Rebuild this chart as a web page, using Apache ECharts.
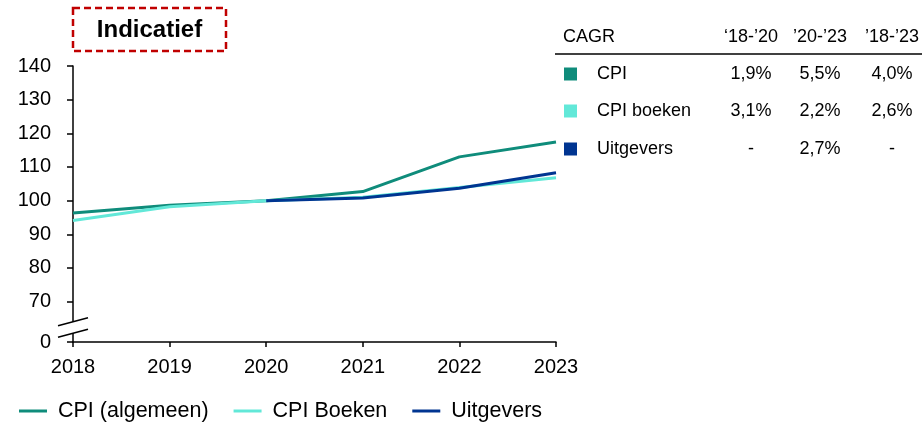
<!DOCTYPE html>
<html>
<head>
<meta charset="utf-8">
<script src="https://cdn.jsdelivr.net/npm/echarts@6/dist/echarts.min.js"></script>
<style>
  html, body { margin: 0; padding: 0; background: #fff; }
  #chart { width: 922px; height: 422px; }
</style>
</head>
<body>
<div id="chart"></div>
<script>
// data
const years = ['2018', '2019', '2020', '2021', '2022', '2023'];
const cpi = [96.3, 98.6, 100, 102.7, 113.0, 117.4];
const cpiBoeken = [94.1, 98.2, 100, 101.0, 103.9, 106.8];
const uitgevers = [null, null, 100, 100.8, 103.7, 108.3];

// y-as is onderbroken: de onderste tick (58) staat voor 0
const yTickValues = [58, 70, 80, 90, 100, 110, 120, 130, 140];
const yTickLabels = ['0', '70', '80', '90', '100', '110', '120', '130', '140'];

const cagrPeriods = ['\u201818-\u201920', '\u201920-\u201923', '\u201918-\u201923'];
const cagrNames = ['CPI', 'CPI boeken', 'Uitgevers'];
const cagrValues = [
  ['1,9%', '5,5%', '4,0%'],
  ['3,1%', '2,2%', '2,6%'],
  ['-', '2,7%', '-']
];

const colors = ['#0f8c7b', '#62e8d8', '#003591'];
const font = 'Liberation Sans, Arial, sans-serif';

const chart = echarts.init(document.getElementById('chart'), null, { renderer: 'canvas' });

const option = {
  animation: false,
  backgroundColor: '#fff',
  color: colors,
  grid: { left: 73, right: 366, top: 66, bottom: 80 },
  legend: {
    left: 19,
    top: 400,
    padding: 0,
    icon: 'rect',
    itemWidth: 28,
    itemHeight: 3,
    itemGap: 25,
    textStyle: { fontFamily: font, fontSize: 21.5, color: '#000', padding: [0, 0, 0, 6] },
    data: ['CPI (algemeen)', 'CPI Boeken', 'Uitgevers']
  },
  xAxis: {
    type: 'category',
    data: years,
    boundaryGap: false,
    axisLine: { lineStyle: { color: '#000', width: 1.5 } },
    axisTick: { show: true, length: 5, lineStyle: { color: '#000', width: 1.5 } },
    axisLabel: { color: '#000', fontFamily: font, fontSize: 20, margin: 15 }
  },
  yAxis: {
    type: 'value',
    min: 58,
    max: 140,
    splitLine: { show: false },
    axisLine: { show: true, lineStyle: { color: '#000', width: 1.5 } },
    axisTick: { show: true, length: 6, customValues: yTickValues, lineStyle: { color: '#000', width: 1.5 } },
    axisLabel: {
      color: '#000', fontFamily: font, fontSize: 20, margin: 22,
      customValues: yTickValues,
      formatter: (v) => yTickLabels[yTickValues.indexOf(v)]
    }
  },
  series: [
    { name: 'CPI (algemeen)', type: 'line', data: cpi, symbol: 'none', lineStyle: { width: 3 } },
    { name: 'CPI Boeken', type: 'line', data: cpiBoeken, symbol: 'none', lineStyle: { width: 3 } },
    { name: 'Uitgevers', type: 'line', data: uitgevers, symbol: 'none', lineStyle: { width: 3 } }
  ]
};
chart.setOption(option);

// extra elementen: kader "Indicatief", as-onderbreking en CAGR-tabel
const graphics = [];

graphics.push({
  type: 'rect', shape: { x: 73, y: 8, width: 153, height: 43 },
  style: { fill: 'none', stroke: '#c00000', lineWidth: 2.5, lineDash: [7, 4] }
});
graphics.push({
  type: 'text', x: 149.5, y: 30,
  style: { text: 'Indicatief', font: 'bold 24px ' + font, fill: '#000', align: 'center', verticalAlign: 'middle' }
});

// onderbreking
const axisX = chart.convertToPixel({ xAxisIndex: 0 }, years[0]);
const yTop = chart.convertToPixel({ yAxisIndex: 0 }, 64);
const yBot = chart.convertToPixel({ yAxisIndex: 0 }, 60.6);
graphics.push({
  type: 'rect', shape: { x: axisX - 4, y: yTop, width: 8, height: yBot - yTop },
  style: { fill: '#fff' }, z: 10
});
[yTop, yBot].forEach((yy) => {
  graphics.push({
    type: 'line', shape: { x1: axisX - 15, y1: yy + 4, x2: axisX + 15, y2: yy - 4 },
    style: { stroke: '#000', lineWidth: 1.5 }, z: 11
  });
});

// tabel
const colX = [751, 820, 892];
const rowY = [74, 111, 149];
graphics.push({
  type: 'text', x: 563, y: 37,
  style: { text: 'CAGR', font: '18px ' + font, fill: '#000', verticalAlign: 'middle' }
});
cagrPeriods.forEach((p, i) => {
  graphics.push({
    type: 'text', x: colX[i], y: 37,
    style: { text: p, font: '18px ' + font, fill: '#000', align: 'center', verticalAlign: 'middle' }
  });
});
graphics.push({
  type: 'line', shape: { x1: 555, y1: 54, x2: 922, y2: 54 },
  style: { stroke: '#000', lineWidth: 1.5 }
});
cagrNames.forEach((name, r) => {
  graphics.push({
    type: 'rect', shape: { x: 564, y: rowY[r] - 6.5, width: 13, height: 13 },
    style: { fill: colors[r] }
  });
  graphics.push({
    type: 'text', x: 597, y: rowY[r],
    style: { text: name, font: '18px ' + font, fill: '#000', verticalAlign: 'middle' }
  });
  cagrValues[r].forEach((v, c) => {
    graphics.push({
      type: 'text', x: colX[c], y: rowY[r],
      style: { text: v, font: '18px ' + font, fill: '#000', align: 'center', verticalAlign: 'middle' }
    });
  });
});

chart.setOption({ graphic: graphics });
</script>
</body>
</html>
